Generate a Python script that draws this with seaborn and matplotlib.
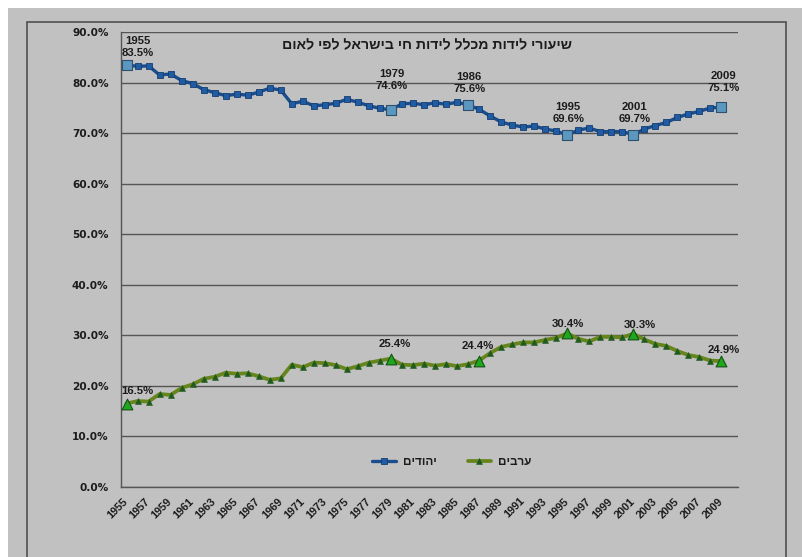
import matplotlib
matplotlib.use("Agg")
import matplotlib.pyplot as plt
import seaborn as sns
from matplotlib.patches import Rectangle
from matplotlib.ticker import FixedLocator, PercentFormatter, NullFormatter

# ---------------- data ----------------
years = list(range(1955, 2010))
jews = [83.5, 83.2, 83.3, 81.5, 81.7, 80.4, 79.8, 78.6, 78.0, 77.4,
        77.7, 77.5, 78.1, 78.9, 78.5, 75.8, 76.3, 75.4, 75.6, 75.9,
        76.7, 76.1, 75.4, 74.9, 74.6, 75.8, 75.9, 75.6, 76.0, 75.7,
        76.1, 75.6, 74.7, 73.4, 72.2, 71.6, 71.2, 71.4, 70.8, 70.4,
        69.6, 70.6, 71.0, 70.3, 70.3, 70.3, 69.7, 70.8, 71.5, 72.1,
        73.1, 73.8, 74.3, 75.0, 75.1]
arabs = [16.5, 17.0, 16.9, 18.4, 18.2, 19.6, 20.3, 21.4, 21.8, 22.6,
         22.4, 22.5, 21.9, 21.2, 21.5, 24.2, 23.7, 24.6, 24.5, 24.1,
         23.3, 23.9, 24.6, 25.0, 25.4, 24.2, 24.1, 24.4, 24.0, 24.3,
         23.9, 24.3, 25.0, 26.5, 27.7, 28.2, 28.6, 28.6, 29.1, 29.5,
         30.4, 29.3, 28.8, 29.7, 29.7, 29.6, 30.3, 29.2, 28.3, 27.9,
         26.9, 26.1, 25.7, 25.0, 24.9]
jews_hl_years = [1955, 1979, 1986, 1995, 2001, 2009]
jews_hl_text = ["1955\n83.5%", "1979\n74.6%", "1986\n75.6%",
                "1995\n69.6%", "2001\n69.7%", "2009\n75.1%"]
arabs_hl_years = [1955, 1979, 1987, 1995, 2001, 2009]
arabs_hl_text = ["16.5%", "25.4%", "24.4%", "30.4%", "30.3%", "24.9%"]
tick_label_years = list(range(1955, 2010, 2))
title_text = "שיעורי לידות מכלל לידות חי בישראל לפי לאום"
label_jews = "יהודים"
label_arabs = "ערבים"

# ---------------- layout / style ----------------
W, H = 802, 557
BG = "#c1c1c1"
TXT = "#1c1c1c"
GRID = "#555555"
JEW_LINE, JEW_MK, JEW_EDGE, JEW_HL = "#1b4c8c", "#1f5ca3", "#153d6e", "#5b97be"
AR_LINE, AR_MK, AR_HL, AR_EDGE = "#66851b", "#1f5a1f", "#1ea81e", "#165016"
jews_offsets = [(11, 18), (1, 30), (1, 22), (1, 22), (1, 22), (2, 25)]
arabs_offsets = [(11, 13), (4, 15), (-1, 15), (1, 9), (6, 9), (2, 11)]

sns.set_style("white")
plt.rcParams["font.family"] = ["DejaVu Sans"]

def heb(s):
    return s[::-1]

fig = plt.figure(figsize=(W / 100, H / 100), dpi=100, facecolor=BG)
fig.add_artist(Rectangle((0, 1 - 8 / H), 1, 8 / H, transform=fig.transFigure,
                         facecolor="white", edgecolor="none", zorder=0))
fig.add_artist(Rectangle((0, 0), 8 / W, 1, transform=fig.transFigure,
                         facecolor="white", edgecolor="none", zorder=0))
fig.add_artist(Rectangle((27 / W, -0.05), (786 - 27) / W, 1 - 22 / H + 0.05,
                         transform=fig.transFigure, fill=False,
                         edgecolor="#505050", linewidth=1.2, zorder=1))

ax = fig.add_axes([121 / W, 1 - 487 / H, (738 - 121) / W, (487 - 32) / H])
ax.set_facecolor(BG)

sns.lineplot(x=years, y=jews, ax=ax, color=JEW_LINE, linewidth=2.4,
             marker="s", markersize=4.2, markerfacecolor=JEW_MK,
             markeredgecolor=JEW_EDGE, markeredgewidth=0.6,
             label=heb(label_jews), zorder=3)
sns.lineplot(x=years, y=arabs, ax=ax, color=AR_LINE, linewidth=2.7,
             marker="^", markersize=3.8, markerfacecolor=AR_MK,
             markeredgecolor=AR_MK, markeredgewidth=0.4,
             label=heb(label_arabs), zorder=3)

jh_y = [jews[years.index(y)] for y in jews_hl_years]
ah_y = [arabs[years.index(y)] for y in arabs_hl_years]
sns.scatterplot(x=jews_hl_years, y=jh_y, ax=ax, marker="s", s=48,
                color=JEW_HL, edgecolor="#2f4f6f", linewidth=0.8, zorder=4,
                legend=False)
sns.scatterplot(x=arabs_hl_years, y=ah_y, ax=ax, marker="^", s=60,
                color=AR_HL, edgecolor=AR_EDGE, linewidth=0.8, zorder=4,
                legend=False)

for (x, y, t, (dx, dy)) in zip(jews_hl_years, jh_y, jews_hl_text, jews_offsets):
    ax.annotate(t, (x, y), xytext=(dx, dy), textcoords="offset pixels",
                ha="center", va="center", fontsize=8.2, fontweight="bold",
                color=TXT, linespacing=1.25, family="Liberation Sans", zorder=5)
for (x, y, t, (dx, dy)) in zip(arabs_hl_years, ah_y, arabs_hl_text, arabs_offsets):
    ax.annotate(t, (x, y), xytext=(dx, dy), textcoords="offset pixels",
                ha="center", va="center", fontsize=8.2, fontweight="bold",
                color=TXT, family="Liberation Sans", zorder=5)

ax.set_xlim(1954.5, 2010.5)
ax.set_ylim(0, 90)
ax.yaxis.set_major_locator(FixedLocator(list(range(0, 91, 10))))
ax.yaxis.set_major_formatter(PercentFormatter(decimals=1))
ax.grid(axis="y", color=GRID, linewidth=1.0, zorder=1)
ax.grid(axis="x", visible=False)
ax.set_axisbelow(True)

ax.xaxis.set_major_locator(FixedLocator(tick_label_years))
ax.set_xticklabels([str(y) for y in tick_label_years])
ax.xaxis.set_minor_locator(FixedLocator([1954.5 + 2 * k for k in range(29)]))
ax.xaxis.set_minor_formatter(NullFormatter())
ax.tick_params(axis="x", which="major", length=0, pad=9)
ax.tick_params(axis="x", which="minor", length=4, width=1, color=GRID,
               direction="out")
ax.tick_params(axis="y", which="major", length=4, width=1, color=GRID,
               direction="out", pad=5)
for lab in ax.get_xticklabels():
    lab.set_rotation(45)
    lab.set_ha("right")
    lab.set_va("center")
    lab.set_rotation_mode("anchor")
    lab.set_fontsize(7.8)
    lab.set_fontweight("bold")
    lab.set_family("Liberation Sans")
    lab.set_color(TXT)
for lab in ax.get_yticklabels():
    lab.set_fontsize(7.6)
    lab.set_fontweight("bold")
    lab.set_color(TXT)

for side in ["top", "right"]:
    ax.spines[side].set_visible(False)
for side in ["left", "bottom"]:
    ax.spines[side].set_color(GRID)
    ax.spines[side].set_linewidth(1.0)

ax.set_xlabel("")
ax.set_ylabel("")

fig.text(427 / W, 1 - 45 / H, heb(title_text), ha="center", va="center",
         fontsize=10.2, fontweight="bold", color=TXT,
         family=["Liberation Sans", "DejaVu Sans"])

leg = ax.legend(loc="center", bbox_to_anchor=(452 / W, 1 - 462 / H),
                bbox_transform=fig.transFigure, ncol=2, frameon=False,
                handlelength=2.0, handletextpad=0.6, columnspacing=2.6,
                prop={"family": ["Liberation Sans", "DejaVu Sans"],
                      "weight": "bold", "size": 8.5})
for t in leg.get_texts():
    t.set_color(TXT)

fig.savefig("out.png", dpi=100, facecolor=fig.get_facecolor())
